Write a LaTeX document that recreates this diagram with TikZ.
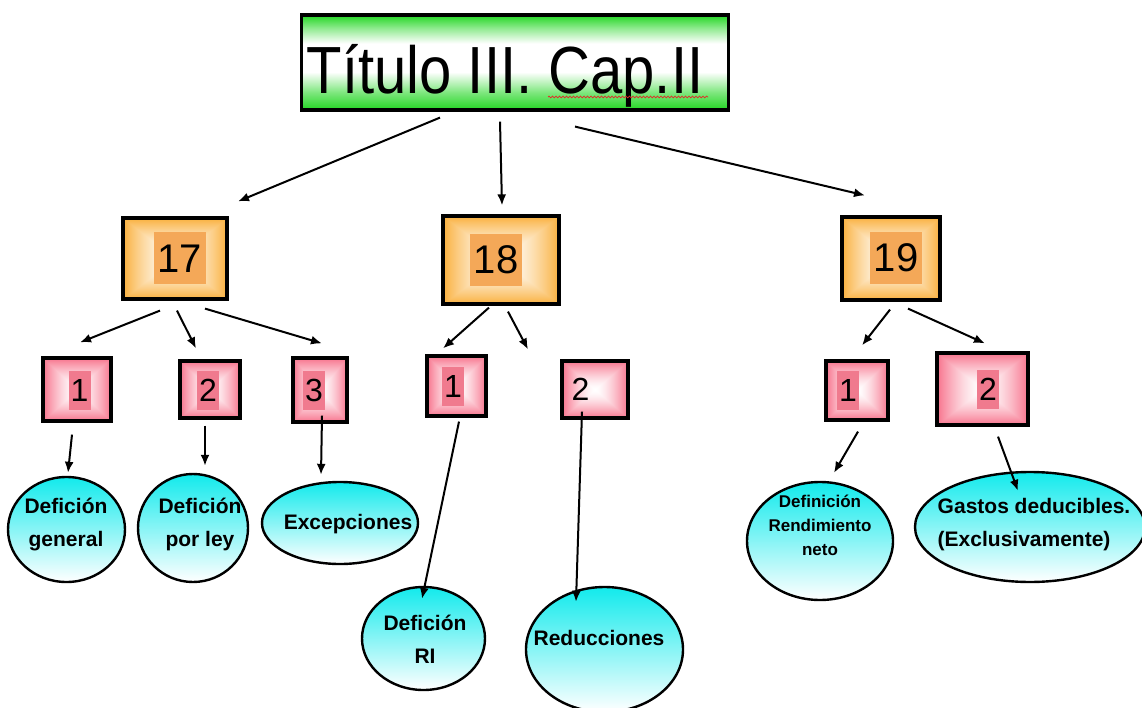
\documentclass[tikz,border=0pt]{standalone}
\usepackage{fontspec}
\setmainfont{Liberation Sans}
\usepackage{graphicx}
\usetikzlibrary{shapes.geometric,arrows.meta,calc,decorations.pathmorphing}

\definecolor{titlegreen}{RGB}{34,214,34}
\definecolor{numorange}{RGB}{244,168,88}
\definecolor{numpink}{RGB}{240,122,142}
\definecolor{leafcyan}{RGB}{18,234,236}
\definecolor{spellred}{RGB}{228,40,40}

\pgfdeclareverticalshading{titleglow}{100bp}{color(0bp)=(titlegreen); color(25bp)=(titlegreen); color(34bp)=(titlegreen!60!white); color(45bp)=(white); color(60bp)=(white); color(68bp)=(titlegreen!50!white); color(75bp)=(titlegreen); color(100bp)=(titlegreen)}
\pgfdeclarefunctionalshading{orangeglow}{\pgfpoint{-50bp}{-50bp}}{\pgfpoint{50bp}{50bp}}{}{
	abs exch abs 2 copy lt {exch} if pop 25 div dup 1 gt {pop 1} if dup sqrt mul
	dup 0.02 mul 1 exch sub
	exch dup 0.31 mul 1 exch sub
	exch 0.76 mul 1 exch sub
}
\pgfdeclarefunctionalshading{pinkglow}{\pgfpoint{-50bp}{-50bp}}{\pgfpoint{50bp}{50bp}}{}{
	abs exch abs 2 copy lt {exch} if pop 25 div dup 1 gt {pop 1} if dup sqrt mul
	dup 0.03 mul 1 exch sub
	exch dup 0.55 mul 1 exch sub
	exch 0.45 mul 1 exch sub
}

\begin{document}
\begin{tikzpicture}[
		x=1pt, y=-1pt,
		every node/.style={inner sep=0pt},
		titlebox/.style={draw, line width=3.2pt, minimum width=427pt, minimum height=95pt, shading=titleglow},
		artbox/.style={draw, line width=3.2pt, shading=orangeglow},
		subbox/.style={draw, line width=3.2pt, shading=pinkglow},
		artnum/.style={fill=numorange, minimum size=52pt, font=\fontsize{40}{40}\selectfont},
		subnum/.style={fill=numpink, minimum width=22pt, minimum height=39pt, font=\fontsize{32}{32}\selectfont},
		leaf/.style={ellipse, draw, line width=2.4pt, top color=leafcyan, bottom color=white},
		leaftext/.style={align=center, font=\fontsize{21}{33}\selectfont\bfseries},
		link/.style={-{Latex[length=11pt,width=9pt]}, line width=2pt}
		]
		\useasboundingbox (0,0) rectangle (1142,708);
		
		% title
		\node[titlebox] (t) at (515,62.5) {};
		\node[anchor=base, font=\fontsize{58}{58}\selectfont] (tt) at (505,94) {\scalebox{1}[1.15]{Título III. Cap.II}};
		\draw[spellred, line width=0.7pt, decorate, decoration={snake, amplitude=0.9pt, segment length=3.5pt}] ($(tt.base)+(43,3)$) -- ($(tt.base)+(203,3)$);
		
		% articles
		\node[artbox, minimum width=104pt, minimum height=81pt] (n17) at (175,258.5) {};
		\node[artnum] (n17n) at (179.5,258.5) {17};
		\node[artbox, minimum width=116pt, minimum height=88pt] (n18) at (501,260) {};
		\node[artnum] (n18n) at (496,260) {18};
		\node[artbox, minimum width=98pt, minimum height=83pt] (n19) at (891,258.5) {};
		\node[artnum] (n19n) at (896,258) {19};
		
		% sections
		\node[subbox, minimum width=68pt, minimum height=63pt] (a1) at (77,389.5) {};
		\node[subnum] (a1n) at (79.5,390) {1};
		\node[subbox, minimum width=60pt, minimum height=57pt] (a2) at (210,389.5) {};
		\node[subnum] (a2n) at (208,390) {2};
		\node[subbox, minimum width=54pt, minimum height=64pt] (a3) at (320,390) {};
		\node[subnum] (a3n) at (314,390.5) {3};
		\node[subbox, minimum width=59pt, minimum height=60pt] (b1) at (456.5,386) {};
		\node[subnum] (b1n) at (453,386.5) {1};
		\node[subbox, minimum width=66pt, minimum height=57pt] (b2) at (595,389.5) {};
		\node[subnum, fill=none] (b2n) at (580.5,389) {2};
		\node[subbox, minimum width=62pt, minimum height=59pt] (c1) at (857,390.5) {};
		\node[subnum] (c1n) at (848,390) {1};
		\node[subbox, minimum width=91pt, minimum height=72pt] (c2) at (982.5,389) {};
		\node[subnum] (c2n) at (988,389.5) {2};
		
		% leaves
		\node[leaf, minimum width=117pt, minimum height=105pt] (e1) at (66.5,529.5) {};
		\node[leaftext] (e1t) at (66,525) {Defición\\general};
		\node[leaf, minimum width=110pt, minimum height=108pt] (e2) at (193,528) {};
		\node[leaftext] (e2t) at (200,524) {Defición\\por ley};
		\node[leaf, minimum width=156pt, minimum height=82pt] (e3) at (340,523) {};
		\node[leaftext] (e3t) at (348,524) {Excepciones};
		\node[leaf, minimum width=123pt, minimum height=103pt] (e4) at (423.5,638.5) {};
		\node[leaftext] (e4t) at (425,639) {Defición\\RI};
		\node[leaf, minimum width=157pt, minimum height=125pt] (e5) at (604.5,649.5) {};
		\node[leaftext] (e5t) at (599,638) {Reducciones};
		\node[leaf, minimum width=146pt, minimum height=118pt] (e6) at (820,541) {};
		\node[leaftext, font=\fontsize{17}{24}\selectfont\bfseries] (e6t) at (820,525) {Definición\\Rendimiento\\neto};
		\node[leaf, minimum width=230pt, minimum height=110pt] (e7) at (1030,527) {};
		\node[leaftext, align=left] (e7t) at (1034,525) {Gastos deducibles.\\(Exclusivamente)};
		
		% arrows
		\draw[link] ($(t.south)+(-75,6)$) -- ($(n17.north)+(63,-15)$);
		\draw[link] ($(t.south)+(-15,10)$) -- ($(n18.north)+(1,-9)$);
		\draw[link] ($(t.south)+(60,15)$) -- ($(n19.north)+(-26,-20)$);
		
		\draw[link] ($(n17.south)+(-15,10)$) -- ($(a1.north)+(3,-14)$);
		\draw[link] ($(n17.south)+(2,10)$) -- ($(a2.north)+(-14,-11)$);
		\draw[link] ($(n17.south)+(30,8)$) -- ($(a3.north)+(2,-13)$);
		\draw[link] ($(n18.south)+(-12,2)$) -- ($(b1.north)+(-13.5,-6)$);
		\draw[link] ($(n18.south)+(7,6)$) -- ($(b2.north)+(-67,-10)$);
		\draw[link] ($(n19.south)+(-1,8)$) -- ($(c1.north)+(5,-14)$);
		\draw[link] ($(n19.south)+(17,7)$) -- ($(c2.north)+(2.5,-8)$);
		
		\draw[link] ($(a1.south)+(-5,12)$) -- ($(e1.north)+(1.5,-3)$);
		\draw[link] ($(a2.south)+(-5,6)$) -- ($(e2.north)+(12,-7)$);
		\draw[link] ($(a3.south)+(2,-8)$) -- ($(e3.north)+(-19,-6)$);
		\draw[link] ($(b1.south)+(2.5,4)$) -- ($(e4.north)+(-1.5,13)$);
		\draw[link] ($(b2.south)+(-13,-8)$) -- ($(e5.north)+(-28.5,16)$);
		\draw[link] ($(c1.south)+(1,10)$) -- ($(e6.north)+(14,-8)$);
		\draw[link] ($(c2.south)+(15.5,10)$) -- ($(e7.north)+(-12,20)$);
	\end{tikzpicture}
\end{document}
